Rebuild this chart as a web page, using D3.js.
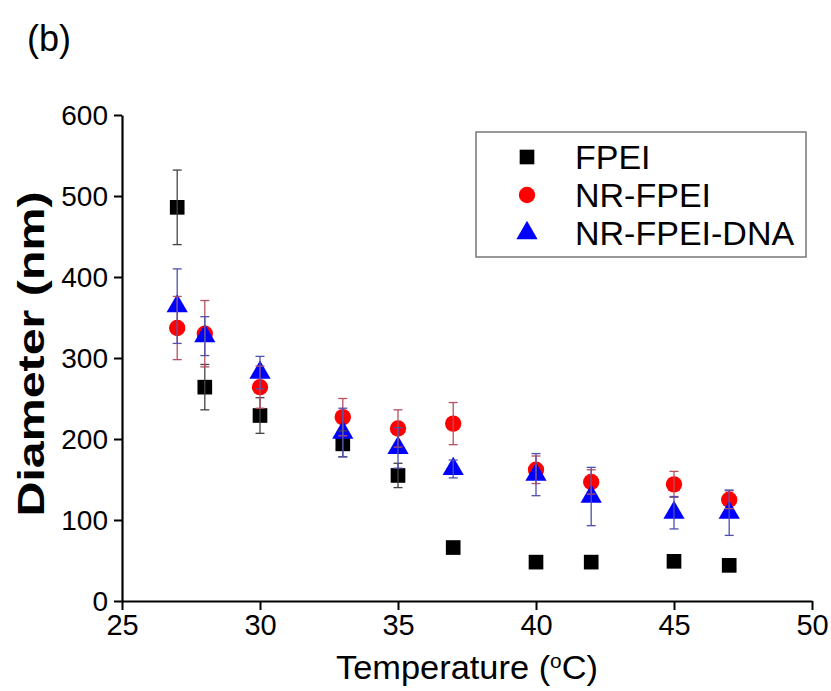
<!DOCTYPE html>
<html>
<head>
<meta charset="utf-8">
<script src="https://cdn.jsdelivr.net/npm/d3@7"></script>
<style>
  body { margin: 0; background: #fff; }
  text { font-family: "Liberation Sans", Arial, sans-serif; }
</style>
</head>
<body>
<div id="chart"></div>
<script>
// Data
const temps = [27, 28, 30, 33, 35, 37, 40, 42, 45, 47];
const fpei = [486, 264, 229, 194, 155, 66, 48, 48, 49, 44];
const fpeiErr = [46, 28, 22, 16, 15, 0, 0, 0, 0, 0];
const nrFpei = [337, 330, 264, 227, 213, 219, 162, 147, 144, 125];
const nrFpeiErr = [39, 41, 26, 23, 23, 26, 17, 15, 16, 11];
const nrDna = [364, 327, 282, 208, 189, 163, 156, 129, 109, 109];
const nrDnaErr = [46, 24, 20, 30, 25, 11, 26, 36, 20, 28];
const xTicks = [25, 30, 35, 40, 45, 50];
const yTicks = [0, 100, 200, 300, 400, 500, 600];

const series = [
    { name: "FPEI", values: fpei, err: fpeiErr, color: "#000", errColor: "#444", shape: "square" },
    { name: "NR-FPEI", values: nrFpei, err: nrFpeiErr, color: "#ff0000", errColor: "#b85060", shape: "circle" },
    { name: "NR-FPEI-DNA", values: nrDna, err: nrDnaErr, color: "#0000ff", errColor: "#5050b0", shape: "triangle" }
];

// Set up dimensions
const margin = { top: 115, right: 19, bottom: 90, left: 122 };
const fullW = 831, fullH = 691;
const width = fullW - margin.left - margin.right;
const height = fullH - margin.top - margin.bottom;

const root = d3.select("#chart")
    .append("svg")
    .attr("width", fullW)
    .attr("height", fullH);

const svg = root.append("g")
    .attr("transform", `translate(${margin.left},${margin.top})`);

// Scales
const xScale = d3.scaleLinear().domain([25, 50]).range([0, width]);
const yScale = d3.scaleLinear().domain([0, 600]).range([height, 0]);

// Axes
const xAxis = svg.append("g")
    .attr("transform", `translate(0,${height})`)
    .call(d3.axisBottom(xScale).tickValues(xTicks).tickSize(9).tickPadding(4).tickSizeOuter(0));
const yAxis = svg.append("g")
    .call(d3.axisLeft(yScale).tickValues(yTicks).tickSize(8).tickPadding(6).tickSizeOuter(0));

[xAxis, yAxis].forEach(a => {
    a.select(".domain").attr("stroke-width", 2.2);
    a.selectAll(".tick line").attr("stroke-width", 2);
    a.selectAll(".tick text")
        .attr("fill", "#000")
        .style("font-family", "'Liberation Sans', Arial, sans-serif");
});
xAxis.selectAll(".tick text").attr("font-size", 29).attr("dy", "0.72em");
yAxis.selectAll(".tick text").attr("font-size", 28).attr("dy", "0.35em");

// Symbol helpers
const symbolFor = {
    square: d3.symbol().type(d3.symbolSquare).size(215),
    circle: d3.symbol().type(d3.symbolCircle).size(210),
    triangle: d3.symbol().type(d3.symbolTriangle).size(195)
};

// Markers
series.forEach(s => {
    svg.append("g")
        .selectAll("path")
        .data(temps.map((t, i) => ({ t, v: s.values[i] })))
        .join("path")
        .attr("d", symbolFor[s.shape])
        .attr("transform", d => `translate(${xScale(d.t)},${yScale(d.v)})`)
        .attr("fill", s.color);
});

// Error bars
const cap = 4.5;
series.forEach(s => {
    const g = svg.append("g")
        .attr("stroke", s.errColor)
        .attr("stroke-width", 1.3)
        .attr("fill", "none");
    temps.forEach((t, i) => {
        const e = s.err[i];
        if (!e) return;
        const x = xScale(t);
        const y1 = yScale(s.values[i] + e);
        const y0 = yScale(s.values[i] - e);
        g.append("line").attr("x1", x).attr("x2", x).attr("y1", y1).attr("y2", y0);
        g.append("line").attr("x1", x - cap).attr("x2", x + cap).attr("y1", y1).attr("y2", y1);
        g.append("line").attr("x1", x - cap).attr("x2", x + cap).attr("y1", y0).attr("y2", y0);
    });
});

// Axis titles
svg.append("text")
    .attr("x", xScale(37.5))
    .attr("y", height + 78)
    .attr("text-anchor", "middle")
    .attr("font-size", 33)
    .attr("textLength", 262)
    .attr("lengthAdjust", "spacingAndGlyphs")
    .html("Temperature (<tspan baseline-shift='super' font-size='20'>o</tspan>C)");

svg.append("text")
    .attr("transform", `translate(${-78},${yScale(300) - 4}) rotate(-90)`)
    .attr("text-anchor", "middle")
    .attr("font-size", 37)
    .attr("font-weight", "bold")
    .attr("textLength", 325)
    .attr("lengthAdjust", "spacingAndGlyphs")
    .text("Diameter (nm)");

// Panel label
root.append("text")
    .attr("x", 27)
    .attr("y", 51)
    .attr("font-size", 36)
    .text("(b)");

// Legend
const legend = root.append("g").attr("transform", "translate(476,132)");
legend.append("rect")
    .attr("width", 330)
    .attr("height", 125)
    .attr("fill", "#fff")
    .attr("stroke", "#777")
    .attr("stroke-width", 1.5);
series.forEach((s, i) => {
    const row = legend.append("g").attr("transform", `translate(0,${25 + i * 38})`);
    row.append("path")
        .attr("d", symbolFor[s.shape])
        .attr("transform", "translate(51,0)")
        .attr("fill", s.color);
    row.append("text")
        .attr("x", 99)
        .attr("dy", "0.36em")
        .attr("font-size", 34)
        .text(s.name);
});
</script>
</body>
</html>
